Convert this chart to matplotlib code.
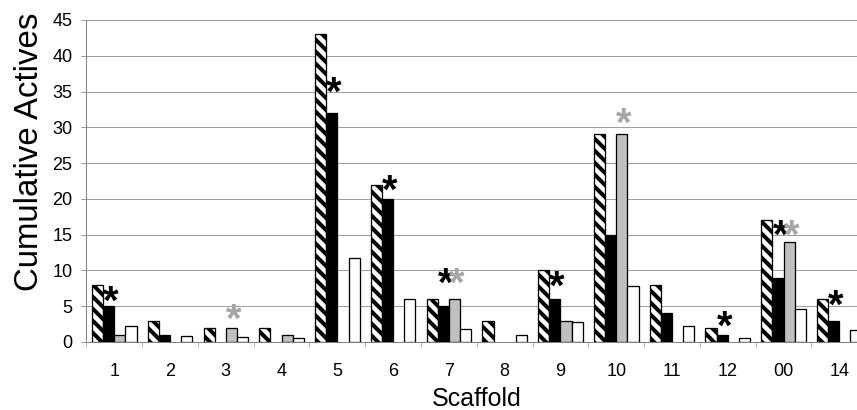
import numpy as np
import matplotlib
matplotlib.use("Agg")
import matplotlib.pyplot as plt
import matplotlib.transforms as mtransforms

plt.rcParams["font.family"] = ["Liberation Sans", "DejaVu Sans"]
plt.rcParams["hatch.linewidth"] = 4.0

# data
scaffolds = ["1", "2", "3", "4", "5", "6", "7", "8", "9", "10", "11", "12", "00", "14"]
hatched = [8, 3, 2, 2, 43, 22, 6, 3, 10, 29, 8, 2, 17, 6]
black   = [5, 1, 0, 0, 32, 20, 5, 0, 6, 15, 4, 1, 9, 3]
gray    = [1, 0, 2, 1, 0, 0, 6, 0, 3, 29, 0, 0, 14, 0]
white   = [2.3, 0.8, 0.7, 0.6, 11.7, 6, 1.8, 1, 2.8, 7.8, 2.2, 0.6, 4.6, 1.7]

# asterisks: scaffold index, which bar (1 = black, 2 = gray), height of star centre
star_idx    = [0, 2, 4, 5, 6, 6, 8, 9, 11, 12, 12, 13]
star_series = [1, 2, 1, 1, 1, 2, 1, 2, 1, 1, 2, 1]
star_y      = [6.8, 4.2, 36, 22.3, 9.2, 9.2, 8.9, 31.6, 3.2, 16, 16, 6.2]

W, H, DPI = 857, 410, 72
fig = plt.figure(figsize=(W / DPI, H / DPI), dpi=DPI)
# axes runs past the right edge like the original
ax = fig.add_axes([86.4 / W, (H - 342) / H, 780.8 / W, 322 / H])

x = np.arange(len(scaffolds))
bw = 0.2
offsets = [-0.3, -0.1, 0.1, 0.3]

series = [
    (hatched, dict(facecolor="white", hatch="\\\\")),
    (black,   dict(facecolor="black")),
    (gray,    dict(facecolor="#c0c0c0")),
    (white,   dict(facecolor="white")),
]
for (vals, style), off in zip(series, offsets):
    v = np.asarray(vals, dtype=float)
    m = v > 0
    ax.bar(x[m] + off, v[m], width=bw, edgecolor="black", linewidth=1.3,
           zorder=3, **style)

star_colors = {1: "black", 2: "#a6a6a6"}
star_tr = mtransforms.offset_copy(ax.transData, fig=fig, x=0, y=-20, units="points")
for i, s, yv in zip(star_idx, star_series, star_y):
    ax.text(x[i] + offsets[s] + 0.04, yv, "*", fontsize=40, fontweight="bold",
            ha="center", va="baseline", color=star_colors[s],
            transform=star_tr, zorder=4, clip_on=False)

ax.set_xlim(-0.5, len(scaffolds) - 0.5)
ax.set_ylim(0, 45)
ax.set_yticks(range(0, 46, 5))
ax.set_xticks(x)
ax.set_xticklabels(scaffolds)
ax.set_xticks(np.arange(-0.5, len(scaffolds), 1.0), minor=True)

ax.tick_params(axis="x", which="major", length=0, pad=21, labelsize=18)
ax.tick_params(axis="x", which="minor", length=5, color="#808080", direction="out")
ax.tick_params(axis="y", length=5, color="#808080", pad=9, labelsize=18)

ax.grid(axis="y", color="#a0a0a0", linewidth=1.0, zorder=0)
ax.set_axisbelow(True)
for side in ["top", "right"]:
    ax.spines[side].set_visible(False)
for side in ["left", "bottom"]:
    ax.spines[side].set_color("#808080")
    ax.spines[side].set_linewidth(1.0)

ax.set_ylabel("Cumulative Actives", fontsize=33)
ax.yaxis.set_label_coords(-0.053, 0.59)
ax.set_xlabel("Scaffold", fontsize=25)
ax.xaxis.set_label_coords(0.5, -0.14)
ax.xaxis.label.set_va("top")

fig.savefig("out.png", dpi=DPI)
